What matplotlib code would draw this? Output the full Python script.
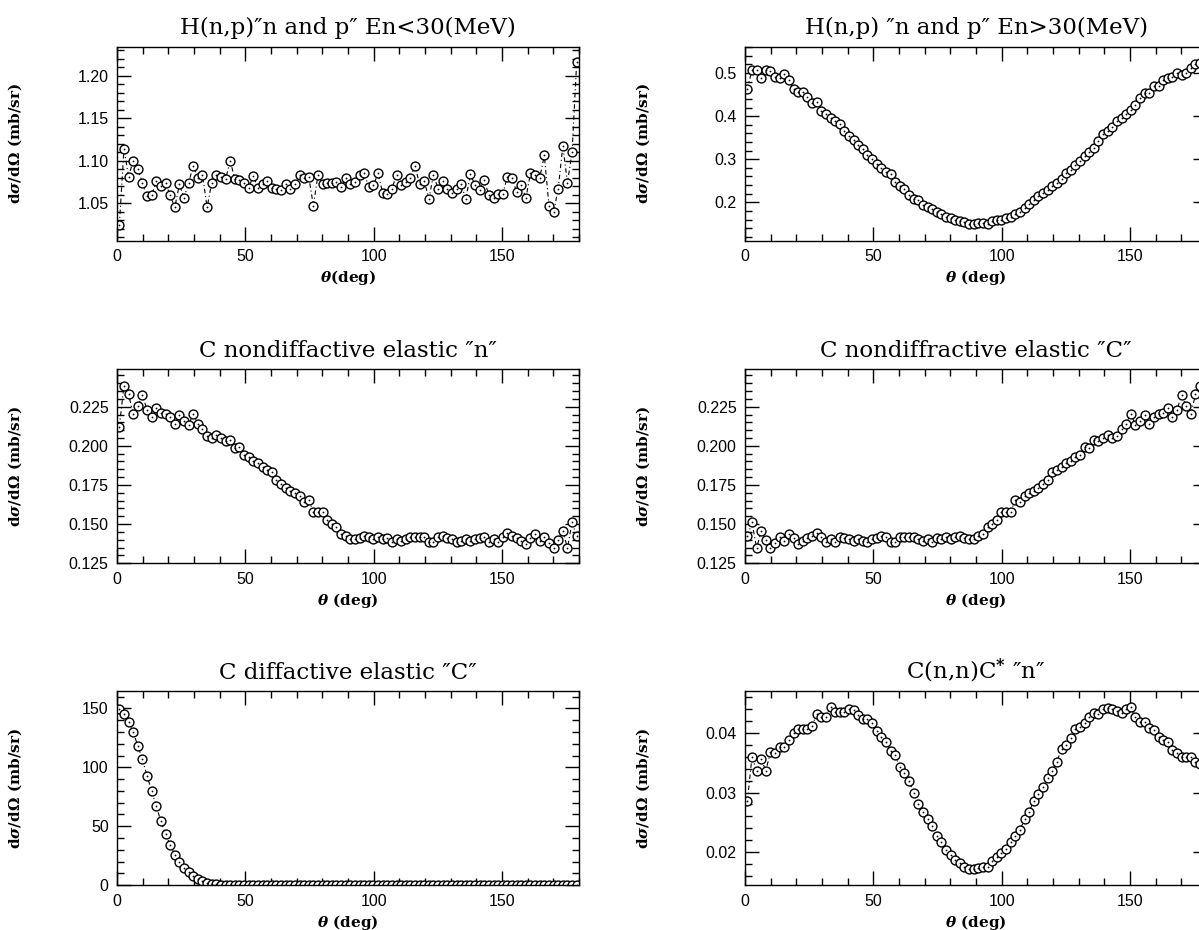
import numpy as np
import matplotlib
matplotlib.use("Agg")
import matplotlib.pyplot as plt
from matplotlib.ticker import MultipleLocator, FormatStrFormatter

# angular bins (deg), 100 bins of 1.8 deg
theta = np.arange(100) * 1.8 + 0.9

# H(n,p) "n and p", En < 30 MeV
h_low = [1.024, 1.114, 1.081, 1.100, 1.090, 1.074, 1.058, 1.059, 1.076, 1.070,
         1.074, 1.059, 1.045, 1.072, 1.056, 1.074, 1.094, 1.080, 1.083, 1.045,
         1.074, 1.083, 1.081, 1.078, 1.100, 1.078, 1.077, 1.074, 1.068, 1.082,
         1.068, 1.073, 1.076, 1.068, 1.067, 1.065, 1.072, 1.066, 1.072, 1.083,
         1.079, 1.081, 1.047, 1.083, 1.072, 1.074, 1.074, 1.075, 1.069, 1.080,
         1.072, 1.075, 1.083, 1.085, 1.069, 1.071, 1.085, 1.062, 1.061, 1.067,
         1.083, 1.071, 1.075, 1.080, 1.094, 1.072, 1.076, 1.055, 1.083, 1.067,
         1.076, 1.066, 1.062, 1.066, 1.072, 1.055, 1.084, 1.071, 1.065, 1.077,
         1.059, 1.056, 1.061, 1.061, 1.081, 1.080, 1.063, 1.071, 1.056, 1.085,
         1.083, 1.080, 1.106, 1.047, 1.039, 1.067, 1.117, 1.074, 1.110, 1.216]

# H(n,p) "n and p", En > 30 MeV
h_high = [0.462, 0.508, 0.508, 0.488, 0.506, 0.504, 0.492, 0.488, 0.498, 0.483,
          0.464, 0.456, 0.456, 0.444, 0.431, 0.434, 0.413, 0.404, 0.396, 0.388,
          0.381, 0.365, 0.354, 0.345, 0.334, 0.324, 0.311, 0.300, 0.290, 0.280,
          0.270, 0.265, 0.247, 0.237, 0.232, 0.218, 0.207, 0.205, 0.193, 0.189,
          0.184, 0.178, 0.172, 0.166, 0.164, 0.160, 0.157, 0.154, 0.150, 0.150,
          0.152, 0.152, 0.150, 0.157, 0.160, 0.160, 0.163, 0.167, 0.172, 0.178,
          0.187, 0.195, 0.205, 0.214, 0.222, 0.229, 0.238, 0.245, 0.253, 0.269,
          0.276, 0.286, 0.296, 0.307, 0.317, 0.327, 0.342, 0.359, 0.365, 0.375,
          0.389, 0.396, 0.406, 0.415, 0.425, 0.443, 0.454, 0.454, 0.471, 0.469,
          0.485, 0.489, 0.492, 0.500, 0.495, 0.500, 0.512, 0.520, 0.524, 0.521]

# C nondiffractive elastic, neutron
c_el_n = [0.2122, 0.2384, 0.2329, 0.2203, 0.2254, 0.2322, 0.2231, 0.2186, 0.2239, 0.2207,
          0.2203, 0.2186, 0.2137, 0.2195, 0.2159, 0.2133, 0.2205, 0.2142, 0.2108, 0.2065,
          0.2052, 0.2071, 0.2048, 0.2033, 0.2035, 0.1984, 0.1993, 0.1942, 0.1927, 0.1906,
          0.1889, 0.1867, 0.1848, 0.1831, 0.1782, 0.1757, 0.1729, 0.1714, 0.1702, 0.1682,
          0.1640, 0.1655, 0.1580, 0.1580, 0.1580, 0.1527, 0.1500, 0.1480, 0.1436, 0.1423,
          0.1406, 0.1402, 0.1410, 0.1427, 0.1415, 0.1406, 0.1415, 0.1402, 0.1410, 0.1389,
          0.1404, 0.1393, 0.1406, 0.1421, 0.1415, 0.1421, 0.1415, 0.1385, 0.1385, 0.1421,
          0.1427, 0.1410, 0.1406, 0.1389, 0.1393, 0.1406, 0.1393, 0.1406, 0.1410, 0.1421,
          0.1389, 0.1406, 0.1385, 0.1415, 0.1442, 0.1427, 0.1410, 0.1395, 0.1374, 0.1413,
          0.1434, 0.1391, 0.1421, 0.1378, 0.1348, 0.1400, 0.1455, 0.1348, 0.1511, 0.1423]

# C nondiffractive elastic, carbon recoil
c_el_C = [0.1423, 0.1511, 0.1348, 0.1455, 0.1400, 0.1348, 0.1378, 0.1421, 0.1391, 0.1434,
          0.1413, 0.1374, 0.1395, 0.1410, 0.1427, 0.1442, 0.1415, 0.1385, 0.1406, 0.1389,
          0.1421, 0.1410, 0.1406, 0.1393, 0.1406, 0.1393, 0.1389, 0.1406, 0.1410, 0.1427,
          0.1421, 0.1385, 0.1385, 0.1415, 0.1421, 0.1415, 0.1421, 0.1406, 0.1393, 0.1404,
          0.1389, 0.1410, 0.1402, 0.1415, 0.1406, 0.1415, 0.1427, 0.1410, 0.1402, 0.1406,
          0.1423, 0.1436, 0.1480, 0.1500, 0.1527, 0.1580, 0.1580, 0.1580, 0.1655, 0.1640,
          0.1682, 0.1702, 0.1714, 0.1729, 0.1757, 0.1782, 0.1831, 0.1848, 0.1867, 0.1889,
          0.1906, 0.1927, 0.1942, 0.1993, 0.1984, 0.2035, 0.2033, 0.2048, 0.2071, 0.2052,
          0.2065, 0.2108, 0.2142, 0.2205, 0.2133, 0.2159, 0.2195, 0.2137, 0.2186, 0.2203,
          0.2207, 0.2239, 0.2186, 0.2231, 0.2322, 0.2254, 0.2203, 0.2329, 0.2384, 0.2122]

# C diffractive elastic, carbon
c_diff = [149.4, 144.9, 138.7, 130.0, 118.1, 106.8, 92.8, 79.8, 66.8, 54.4,
          43.4, 34.4, 25.9, 19.7, 14.7, 11.0, 7.6, 5.4, 3.4, 2.3,
          1.4, 0.9, 0.6, 0.4, 0.3, 0.2, 0.2, 0.1, 0.1, 0.1,
          0.1, 0.1, 0.1, 0.1, 0.1, 0.1, 0.1, 0.1, 0.1, 0.1,
          0.1, 0.1, 0.1, 0.1, 0.1, 0.1, 0.1, 0.1, 0.1, 0.1,
          0.1, 0.1, 0.1, 0.1, 0.1, 0.1, 0.1, 0.1, 0.1, 0.1,
          0.1, 0.1, 0.1, 0.1, 0.1, 0.1, 0.1, 0.1, 0.1, 0.1,
          0.1, 0.1, 0.1, 0.1, 0.1, 0.1, 0.1, 0.1, 0.1, 0.1,
          0.1, 0.1, 0.1, 0.1, 0.1, 0.1, 0.1, 0.1, 0.1, 0.1,
          0.1, 0.1, 0.1, 0.1, 0.1, 0.1, 0.1, 0.1, 0.1, 0.1]

# C(n,n)C* inelastic, neutron
c_inel = [0.02858, 0.03599, 0.03365, 0.03554, 0.03365, 0.03677, 0.03666, 0.03755, 0.03755, 0.03877,
          0.03989, 0.04056, 0.04056, 0.04056, 0.04111, 0.04312, 0.04267, 0.04267, 0.04423, 0.04351,
          0.04351, 0.04351, 0.04390, 0.04379, 0.04295, 0.04234, 0.04234, 0.04156, 0.04033, 0.03922,
          0.03844, 0.03699, 0.03627, 0.03420, 0.03320, 0.03197, 0.03000, 0.02808, 0.02680, 0.02552,
          0.02440, 0.02279, 0.02167, 0.02039, 0.01955, 0.01872, 0.01816, 0.01760, 0.01716, 0.01721,
          0.01733, 0.01760, 0.01749, 0.01860, 0.01928, 0.01983, 0.02056, 0.02167, 0.02279, 0.02373,
          0.02552, 0.02680, 0.02864, 0.02975, 0.03097, 0.03237, 0.03365, 0.03515, 0.03727, 0.03794,
          0.03905, 0.04056, 0.04089, 0.04156, 0.04256, 0.04334, 0.04312, 0.04390, 0.04407, 0.04390,
          0.04362, 0.04334, 0.04390, 0.04423, 0.04256, 0.04184, 0.04184, 0.04072, 0.04045, 0.03922,
          0.03877, 0.03850, 0.03710, 0.03654, 0.03599, 0.03599, 0.03599, 0.03515, 0.03471, 0.03380]

plt.rcParams["mathtext.fontset"] = "custom"
plt.rcParams["mathtext.rm"] = "DejaVu Serif:bold"
plt.rcParams["mathtext.it"] = "DejaVu Serif:italic:bold"
plt.rcParams["mathtext.bf"] = "DejaVu Serif:bold"

YLABEL = r"d$\sigma$/d$\Omega$ (mb/sr)"
XLABEL = r"$\theta$ (deg)"

panels = [
    # values, title, xlabel, ylim, major, minor, fmt
    (h_low, "H(n,p)\u2033n and p\u2033 En<30(MeV)", r"$\theta$(deg)",
     (1.0057, 1.234), 0.05, 0.01, "%.2f"),
    (h_high, "H(n,p) \u2033n and p\u2033 En>30(MeV)", XLABEL,
     (0.111, 0.561), 0.1, 0.02, "%.1f"),
    (c_el_n, "C nondiffactive elastic \u2033n\u2033", XLABEL,
     (0.125, 0.2488), 0.025, 0.005, "%.3f"),
    (c_el_C, "C nondiffractive elastic \u2033C\u2033", XLABEL,
     (0.125, 0.2488), 0.025, 0.005, "%.3f"),
    (c_diff, "C diffactive elastic \u2033C\u2033", XLABEL,
     (0, 164.4), 50, 10, "%.0f"),
    (c_inel, "C(n,n)C$^{*}$ \u2033n\u2033", XLABEL,
     (0.0145, 0.0469), 0.01, 0.002, "%.2f"),
]

fig = plt.figure(figsize=(11.99, 9.30), dpi=100)

lefts = [0.0976, 0.6214]
bottoms = [0.7412, 0.3943, 0.0481]
width, height = 0.3853, 0.2085

for k, (vals, title, xlab, ylim, major, minor, fmt) in enumerate(panels):
    ax = fig.add_axes([lefts[k % 2], bottoms[k // 2], width, height])

    ax.plot(theta, vals, color="black", lw=0.8, ls=(0, (4, 2.5, 1, 2.5)), zorder=1)
    ax.plot(theta, vals, ls="none", marker="o", ms=6.4, mfc="white",
            mec="black", mew=1.0, zorder=2)
    ax.plot(theta, vals, ls="none", marker="o", ms=1.3, mfc="black",
            mec="black", mew=0, zorder=3)

    ax.set_xlim(0, 180)
    ax.set_ylim(*ylim)
    ax.xaxis.set_major_locator(MultipleLocator(50))
    ax.xaxis.set_minor_locator(MultipleLocator(10))
    ax.yaxis.set_major_locator(MultipleLocator(major))
    ax.yaxis.set_minor_locator(MultipleLocator(minor))
    ax.yaxis.set_major_formatter(FormatStrFormatter(fmt))

    ax.tick_params(which="both", direction="in", top=True, right=True,
                   width=1.0, labelsize=11.5, pad=6)
    ax.tick_params(which="major", length=10)
    ax.tick_params(which="minor", length=5)
    for lab in ax.get_xticklabels() + ax.get_yticklabels():
        lab.set_family("Liberation Sans")
    for sp in ax.spines.values():
        sp.set_linewidth(1.0)

    ax.set_title(title, fontsize=16.5, family="DejaVu Serif", pad=9)
    ax.set_xlabel(xlab, fontsize=11, family="DejaVu Serif",
                  fontweight="bold", labelpad=3)
    ax.set_ylabel(YLABEL, fontsize=11, family="DejaVu Serif",
                  fontweight="bold")
    ax.yaxis.set_label_coords(-0.201, 0.5)

fig.savefig("out.png", dpi=100)
